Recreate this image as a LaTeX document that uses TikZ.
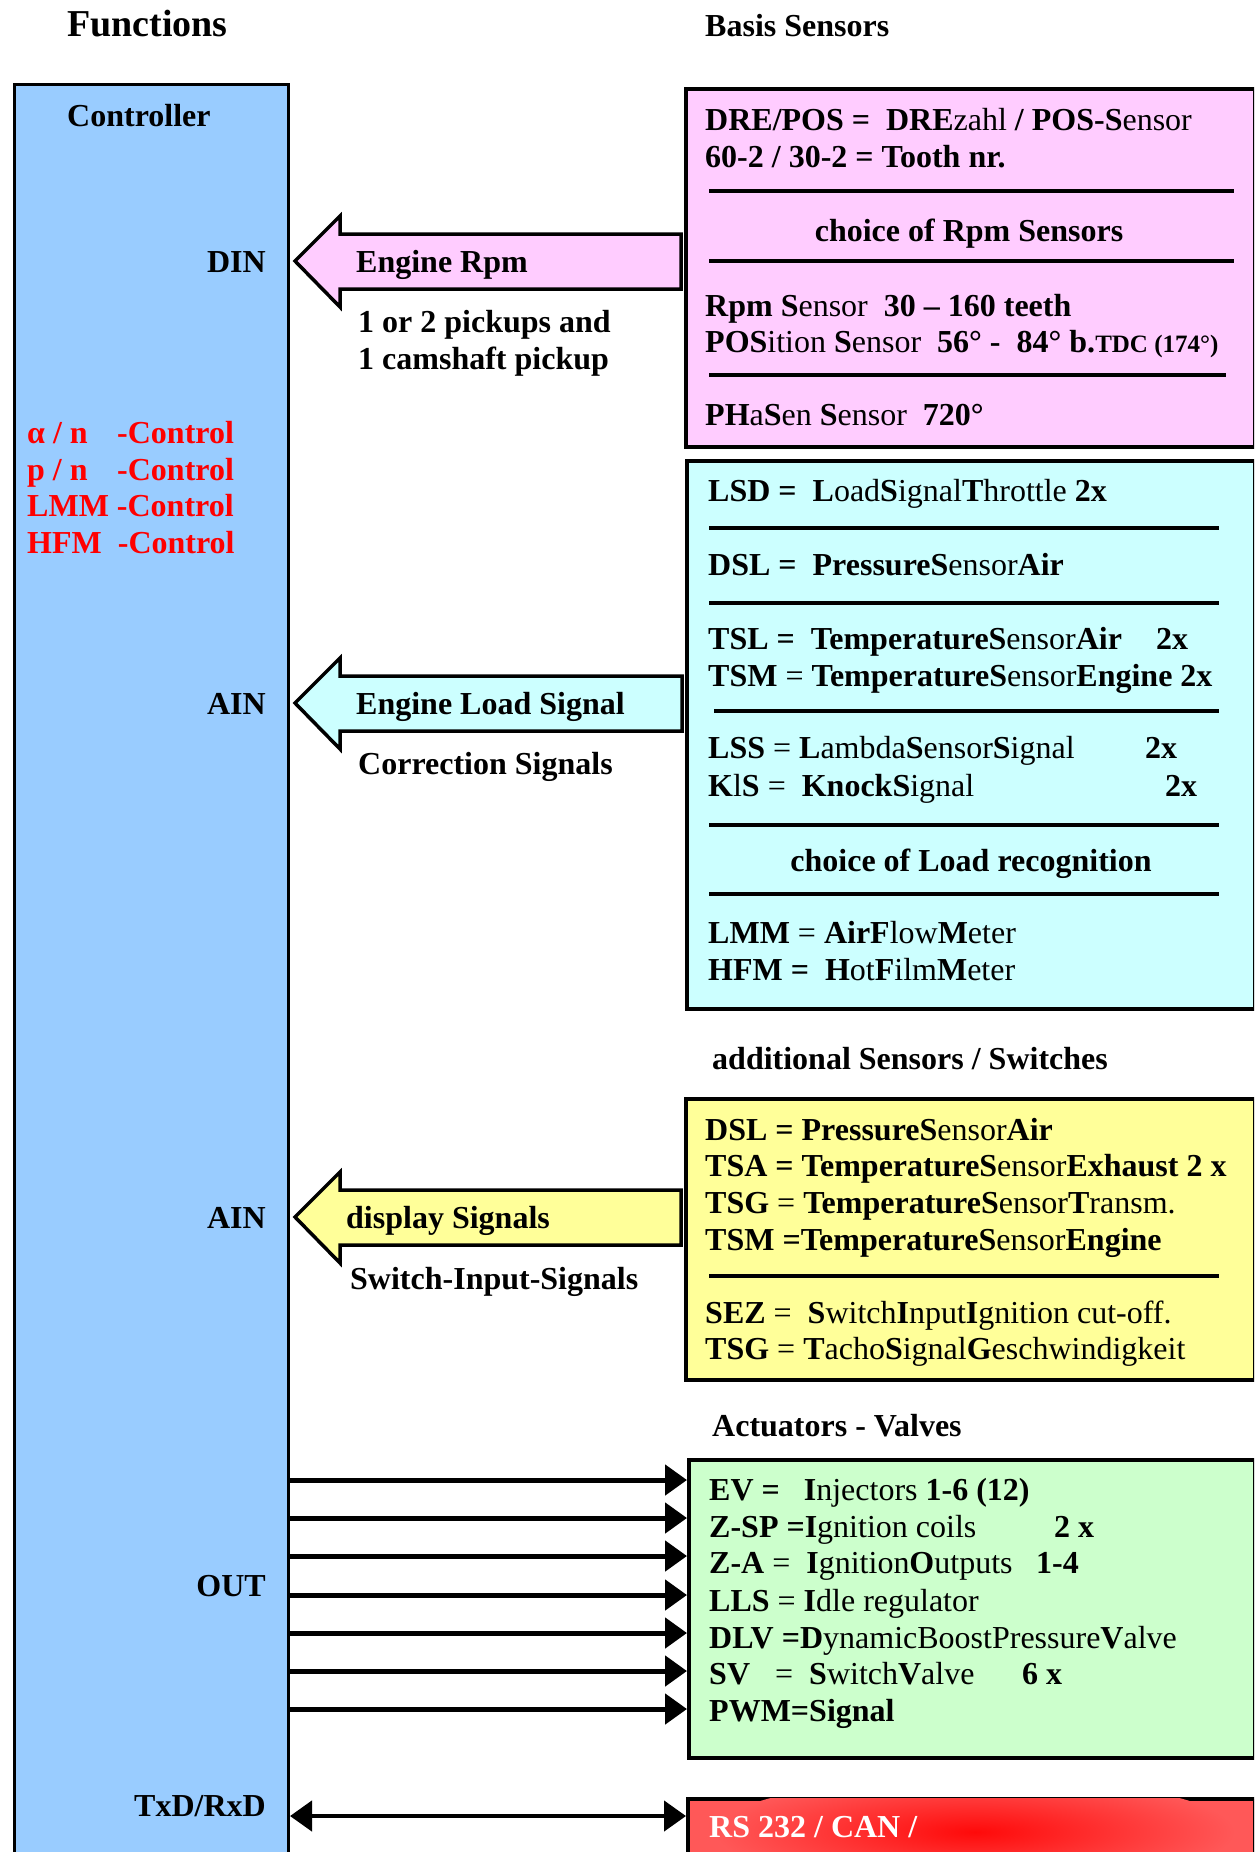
\documentclass[tikz,border=0pt]{standalone}
\usepackage{fontspec}
\setmainfont{Liberation Serif}
\usetikzlibrary{arrows.meta}
\definecolor{ctrlblue}{HTML}{99CCFF}
\definecolor{pinkfill}{HTML}{FFCCFF}
\definecolor{cyanfill}{HTML}{CCFFFF}
\definecolor{yellowfill}{HTML}{FFFF99}
\definecolor{greenfill}{HTML}{CCFFCC}
\definecolor{redfill}{HTML}{FF5858}
\definecolor{redcore}{HTML}{FF0A0A}
\definecolor{ctrltext}{HTML}{FF0000}
\newcommand\blockarr[3]{%
  \draw[barrow, fill=#1] ([xshift=5pt]ctrl.east |- 0,#2) -- ++(45,-45) -- ++(0,18)
    -- ([xshift=-3pt]#3.west |- 0,{#2-27}) -- ([xshift=-3pt]#3.west |- 0,{#2+28})
    -- ([xshift=50pt]ctrl.east |- 0,{#2+28}) -- ++(0,18) -- cycle;}
\begin{document}
\begin{tikzpicture}[x=1pt,y=-1pt,
  txt/.style={anchor=base west, inner sep=0pt, font=\fontsize{32}{37}\selectfont},
  ctxt/.style={anchor=base, inner sep=0pt, font=\fontsize{32}{37}\selectfont\bfseries},
  rtxt/.style={anchor=base east, inner sep=0pt, font=\fontsize{32}{37}\selectfont\bfseries},
  redtxt/.style={anchor=base west, inner sep=0pt, text=ctrltext, font=\fontsize{32}{37}\selectfont\bfseries},
  box/.style={draw=black, line width=3.5pt, rectangle, inner sep=0pt, anchor=north west},
  divider/.style={line width=4pt},
  barrow/.style={draw=black, line width=3.5pt, line join=miter},
  outarrow/.style={line width=5pt, -{Triangle[length=22pt,width=30pt]}},
  dblarrow/.style={line width=4.5pt, {Triangle[length=22pt,width=30pt]}-{Triangle[length=22pt,width=30pt]}}]
\useasboundingbox (0,0) rectangle (1254,1852);
\clip (0,0) rectangle (1254,1852);
\fill[white] (0,0) rectangle (1254,1852);

% headings
\node[txt, font=\fontsize{38}{42}\selectfont\bfseries] (functions) at (67,37) {Functions};
\node[txt, font=\fontsize{32}{37}\selectfont\bfseries] (basis) at (705,37) {Basis Sensors};

% controller
\node[box, fill=ctrlblue, line width=3pt, minimum width=274pt, minimum height=1820pt] (ctrl) at (13,83) {};
\node[txt, font=\fontsize{32}{37}\selectfont\bfseries] (ctrllbl) at (67,126) {Controller};
\node[rtxt] (din) at (266,272) {DIN};
\node[rtxt] (ain1) at (266,714) {AIN};
\node[rtxt] (ain2) at (266,1228) {AIN};
\node[rtxt] (out) at (266,1596) {OUT};
\node[rtxt] (txd) at (266,1816) {TxD/RxD};
\node[redtxt] (c1) at (27,443) {α / n};
\node[redtxt] (c1b) at (117,443) {-Control};
\node[redtxt] (c2) at (27,480) {p / n};
\node[redtxt] (c2b) at (117,480) {-Control};
\node[redtxt] (c3) at (27,516) {LMM -Control};
\node[redtxt] (c4) at (27,553) {HFM\ \ -Control};

% pink box
\node[box, fill=pinkfill, minimum width=569pt, minimum height=358pt] (pink) at (684,87) {};
\node[txt] (p1) at (705,130) {\textbf{DRE/POS =\ \ DRE}zahl \textbf{/ POS-S}ensor};
\node[txt] (p2) at (705,167) {\textbf{60-2 / 30-2 = Tooth nr.}};
\draw[divider] (709,191) -- (1234,191);
\node[ctxt] (p3) at (969,241) {choice of Rpm Sensors};
\draw[divider] (709,261) -- (1234,261);
\node[txt] (p4) at (705,316) {\textbf{Rpm S}ensor\ \ \textbf{30 – 160 teeth}};
\node[txt] (p5) at (705,352) {\textbf{POS}ition \textbf{S}ensor\ \ \textbf{56° -\ \ 84° b.}{\fontsize{25}{28}\selectfont\textbf{TDC (174°)}}};
\draw[divider] (709,375) -- (1226,375);
\node[txt] (p6) at (705,425) {\textbf{PH}a\textbf{S}en \textbf{S}ensor\ \ \textbf{720°}};

% cyan box
\node[box, fill=cyanfill, minimum width=568pt, minimum height=548pt] (cyan) at (685,459) {};
\node[txt] (q1) at (708,501) {\textbf{LSD =\ \ L}oad\textbf{S}ignal\textbf{T}hrottle \textbf{2x}};
\draw[divider] (709,528) -- (1219,528);
\node[txt] (q2) at (708,575) {\textbf{DSL =\ \ PressureS}ensor\textbf{Air}};
\draw[divider] (709,603) -- (1219,603);
\node[txt] (q3) at (708,649) {\makebox[448pt][l]{\textbf{TSL =\ \ TemperatureS}ensor\textbf{Air}}\textbf{2x}};
\node[txt] (q4) at (708,686) {\textbf{TSM} = \textbf{TemperatureS}ensor\textbf{Engine 2x}};
\draw[divider] (714,711) -- (1219,711);
\node[txt] (q5) at (708,758) {\makebox[437pt][l]{\textbf{LSS} = \textbf{L}ambda\textbf{S}ensor\textbf{S}ignal}\textbf{2x}};
\node[txt] (q6) at (708,796) {\makebox[457pt][l]{\textbf{K}l\textbf{S} =\ \ \textbf{KnockS}ignal}\textbf{2x}};
\draw[divider] (709,825) -- (1219,825);
\node[ctxt] (q7) at (971,871) {choice of Load recognition};
\draw[divider] (709,894) -- (1219,894);
\node[txt] (q8) at (708,943) {\textbf{LMM} = \textbf{AirF}low\textbf{M}eter};
\node[txt] (q9) at (708,980) {\textbf{HFM =\ \ H}ot\textbf{F}ilm\textbf{M}eter};

% additional sensors
\node[txt, font=\fontsize{32}{37}\selectfont\bfseries] (addl) at (712,1069) {additional Sensors / Switches};
\node[box, fill=yellowfill, minimum width=569pt, minimum height=281pt] (yellow) at (684,1097) {};
\node[txt] (y1) at (705,1140) {\textbf{DSL = PressureS}ensor\textbf{Air}};
\node[txt] (y2) at (705,1176) {\textbf{TSA = TemperatureS}ensor\textbf{Exhaust 2 x}};
\node[txt] (y3) at (705,1213) {\textbf{TSG} = \textbf{TemperatureS}ensor\textbf{T}ransm.};
\node[txt] (y4) at (705,1250) {\textbf{TSM =TemperatureS}ensor\textbf{Engine}};
\draw[divider] (709,1276) -- (1219,1276);
\node[txt] (y5) at (705,1323) {\textbf{SEZ} =\ \ \textbf{S}witch\textbf{I}nput\textbf{I}gnition cut-off.};
\node[txt] (y6) at (705,1359) {\textbf{TSG} = \textbf{T}acho\textbf{S}ignal\textbf{G}eschwindigkeit};

% actuators
\node[txt, font=\fontsize{32}{37}\selectfont\bfseries] (act) at (712,1436) {Actuators - Valves};
\node[box, fill=greenfill, minimum width=566pt, minimum height=298pt] (green) at (687,1458) {};
\node[txt] (g1) at (709,1500) {\textbf{EV =}\ \ \ \textbf{I}njectors \textbf{1-6 (12)}};
\node[txt] (g2) at (709,1537) {\makebox[345pt][l]{\textbf{Z-SP =I}gnition coils}\textbf{2 x}};
\node[txt] (g3) at (709,1573) {\makebox[327pt][l]{\textbf{Z-A} =\ \ \textbf{I}gnition\textbf{O}utputs}\textbf{1-4}};
\node[txt] (g4) at (709,1611) {\textbf{LLS} = \textbf{I}dle regulator};
\node[txt] (g5) at (709,1648) {\textbf{DLV =D}ynamicBoostPressure\textbf{V}alve};
\node[txt] (g6) at (709,1684) {\makebox[66pt][l]{\textbf{SV}}\makebox[34pt][l]{=}\makebox[213pt][l]{\textbf{S}witch\textbf{V}alve}\textbf{6 x}};
\node[txt] (g7) at (709,1721) {\textbf{PWM=Signal}};

% RS232 box
\node[box, fill=redfill, minimum width=567pt, minimum height=100pt] (red) at (686,1797) {};
\begin{scope}
  \clip (687.75,1798.75) rectangle (1252,1852);
  \shade[inner color=redcore, outer color=redfill] (975,1832) ellipse [x radius=260pt, y radius=55pt];
\end{scope}
\node[txt, text=white, font=\fontsize{32}{37}\selectfont\bfseries] (rs) at (709,1837) {RS 232 / CAN /};

% block arrows
\blockarr{pinkfill}{261}{pink}
\blockarr{cyanfill}{703}{cyan}
\blockarr{yellowfill}{1217}{yellow}
\node[txt, font=\fontsize{32}{37}\selectfont\bfseries] (a1) at (356,272) {Engine Rpm};
\node[txt, font=\fontsize{32}{37}\selectfont\bfseries] (a1b) at (358,332) {1 or 2 pickups and};
\node[txt, font=\fontsize{32}{37}\selectfont\bfseries] (a1c) at (358,369) {1 camshaft pickup};
\node[txt, font=\fontsize{32}{37}\selectfont\bfseries] (a2) at (356,714) {Engine Load Signal};
\node[txt, font=\fontsize{32}{37}\selectfont\bfseries] (a2b) at (358,774) {Correction Signals};
\node[txt, font=\fontsize{32}{37}\selectfont\bfseries] (a3) at (346,1228) {display Signals};
\node[txt, font=\fontsize{32}{37}\selectfont\bfseries] (a3b) at (350,1289) {Switch-Input-Signals};

% output arrows
\foreach \yy in {1480,1518,1556,1595,1633,1671,1709}
  \draw[outarrow] (ctrl.east |- 0,\yy) -- (green.west |- 0,\yy);
\draw[dblarrow] (ctrl.east |- 0,1816) -- (red.west |- 0,1816);
\end{tikzpicture}
\end{document}
